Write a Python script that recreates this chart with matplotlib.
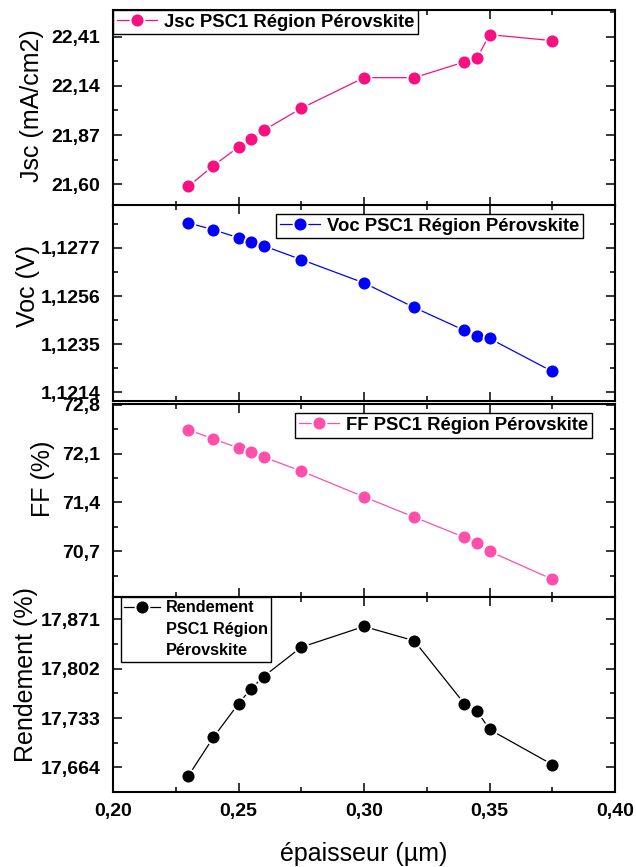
import matplotlib
matplotlib.use("Agg")
import matplotlib.pyplot as plt
from matplotlib.lines import Line2D
from matplotlib.ticker import FixedLocator, FixedFormatter, AutoMinorLocator, MultipleLocator

# ---------------- data ----------------
thickness = [0.23, 0.24, 0.25, 0.255, 0.26, 0.275, 0.30, 0.32, 0.34, 0.345, 0.35, 0.375]

jsc = [21.589, 21.702, 21.805, 21.850, 21.896, 22.017, 22.185, 22.185, 22.271, 22.291, 22.421, 22.388]
voc = [1.12879, 1.12849, 1.12814, 1.12796, 1.12779, 1.12719, 1.12617, 1.12510, 1.12410, 1.12384, 1.12375, 1.12231]
ff = [72.44, 72.31, 72.18, 72.12, 72.05, 71.85, 71.48, 71.19, 70.90, 70.82, 70.70, 70.30]
rendement = [17.652, 17.706, 17.753, 17.774, 17.791, 17.832, 17.861, 17.841, 17.753, 17.743, 17.717, 17.668]

x_ticks = [0.20, 0.25, 0.30, 0.35, 0.40]
x_ticklabels = ["0,20", "0,25", "0,30", "0,35", "0,40"]

jsc_ticks = [21.60, 21.87, 22.14, 22.41]
jsc_ticklabels = ["21,60", "21,87", "22,14", "22,41"]
voc_ticks = [1.1214, 1.1235, 1.1256, 1.1277]
voc_ticklabels = ["1,1214", "1,1235", "1,1256", "1,1277"]
ff_ticks = [70.7, 71.4, 72.1, 72.8]
ff_ticklabels = ["70,7", "71,4", "72,1", "72,8"]
rend_ticks = [17.664, 17.733, 17.802, 17.871]
rend_ticklabels = ["17,664", "17,733", "17,802", "17,871"]

series = [
    dict(y=jsc, color="#F7107F", label="Jsc PSC1 Région Pérovskite", ylabel="Jsc (mA/cm2)",
         ticks=jsc_ticks, labels=jsc_ticklabels, ylim=(21.483, 22.556),
         pos=(10, 205.7), lab=(32.5, 0.51), leg=(0.0, 1.0), legsize=13.3, lspace=0.2),
    dict(y=voc, color="#0000FF", label="Voc PSC1 Région Pérovskite", ylabel="Voc (V)",
         ticks=voc_ticks, labels=voc_ticklabels, ylim=(1.12102, 1.12957),
         pos=(205, 401), lab=(28, 0.588), leg=(0.3247, 0.954), legsize=13.3, lspace=0.2),
    dict(y=ff, color="#FF4FAA", label="FF PSC1 Région Pérovskite", ylabel="FF (%)",
         ticks=ff_ticks, labels=ff_ticklabels, ylim=(70.05, 72.81),
         pos=(404, 596.7), lab=(43, 0.611), leg=(0.3625, 0.952), legsize=13.3, lspace=0.2),
    dict(y=rendement, color="#000000", label="Rendement\nPSC1 Région\nPérovskite", ylabel="Rendement (%)",
         ticks=rend_ticks, labels=rend_ticklabels, ylim=(17.630, 17.9026),
         pos=(596.7, 791.7), lab=(26, 0.60), leg=(0.016, 0.998), legsize=11.7, lspace=0.4),
]

W, H = 636, 867
fig = plt.figure(figsize=(W / 100, H / 100), dpi=100)
plt.rcParams['font.family'] = ['Liberation Sans', 'DejaVu Sans']

left_px, right_px = 113, 615
axes = []
for i, s in enumerate(series):
    top, bot = s["pos"]
    ax = fig.add_axes([left_px / W, (H - bot) / H, (right_px - left_px) / W, (bot - top) / H])
    axes.append(ax)
    line, = ax.plot(thickness, s["y"], color=s["color"], lw=0.9, marker="o", markersize=10,
                    markerfacecolor=s["color"], markeredgecolor="white", markeredgewidth=1.3)
    ax.set_xlim(0.20, 0.40)
    ax.set_ylim(*s["ylim"])
    ax.xaxis.set_major_locator(FixedLocator(x_ticks))
    ax.xaxis.set_minor_locator(MultipleLocator(0.025))
    ax.yaxis.set_major_locator(FixedLocator(s["ticks"]))
    ax.yaxis.set_major_formatter(FixedFormatter(s["labels"]))
    ax.yaxis.set_minor_locator(AutoMinorLocator(2))
    if i == len(series) - 1:
        ax.xaxis.set_major_formatter(FixedFormatter(x_ticklabels))
    else:
        ax.tick_params(axis="x", labelbottom=False)
    ax.tick_params(which="both", direction="in", top=True, right=True, width=1.1)
    ax.tick_params(which="major", length=6.5)
    ax.tick_params(which="minor", length=3.5)
    ax.tick_params(axis="y", which="major", pad=9, labelsize=14)
    ax.tick_params(axis="x", which="major", pad=8, labelsize=14)
    for lab in ax.get_yticklabels() + ax.get_xticklabels():
        lab.set_fontweight("bold")
    for sp in ax.spines.values():
        sp.set_linewidth(1.5)
    ax.set_ylabel(s["ylabel"], fontsize=18, va="center")
    lx, ly = s["lab"]
    ax.yaxis.set_label_coords((lx - left_px) / (right_px - left_px), ly)

    # legend: first text line beside the marker, following lines below it
    label_lines = s["label"].split("\n")
    handles = [line] + [Line2D([], [], linestyle="none") for _ in label_lines[1:]]
    leg = ax.legend(handles, label_lines, loc="upper left", bbox_to_anchor=s["leg"],
                    borderaxespad=0, frameon=True, fancybox=False, framealpha=1,
                    edgecolor="black", borderpad=0.2, handlelength=2.2, handletextpad=0.37,
                    numpoints=1, labelspacing=s["lspace"],
                    prop=dict(weight="bold", size=s["legsize"]))
    leg.get_frame().set_linewidth(1.0)

axes[-1].set_xlabel("épaisseur (µm)", fontsize=18, labelpad=16)

fig.savefig("out.png", dpi=100)
